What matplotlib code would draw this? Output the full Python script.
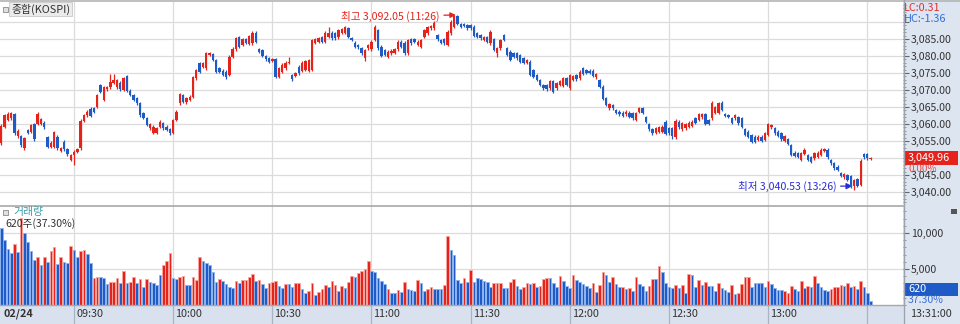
import matplotlib
matplotlib.use('Agg')
import matplotlib.pyplot as plt
import numpy as np
from matplotlib.patches import Rectangle
from matplotlib.lines import Line2D
from matplotlib.transforms import blended_transform_factory, ScaledTranslation
from matplotlib.ticker import MultipleLocator

plt.rcParams['font.family'] = ['Noto Sans CJK KR', 'DejaVu Sans']

# ---------------- data (1-minute KOSPI bars, 09:08 .. 13:31, 02/24) ----------------
start_minute = 8  # minutes after 09:00 of the first visible bar

opens = [
    3054.3, 3059.2, 3061.2, 3061.7, 3062.9, 3056.5, 3056.5, 3052.9, 3058.2, 3057.7,
    3060.0, 3060.0, 3060.0, 3060.4, 3056.1, 3053.3, 3053.3, 3056.3, 3052.1, 3054.8,
    3052.6, 3049.4, 3050.9, 3051.9, 3052.9, 3061.0, 3062.6, 3064.3, 3064.6, 3065.1,
    3071.5, 3067.1, 3070.2, 3070.8, 3072.1, 3070.8, 3072.1, 3070.0, 3074.1, 3069.8,
    3068.5, 3067.6, 3066.2, 3063.2, 3061.8, 3058.7, 3057.4, 3057.4, 3059.2, 3060.2,
    3059.2, 3058.4, 3057.4, 3061.2, 3066.1, 3068.5, 3066.6, 3067.1, 3068.0, 3073.4,
    3077.9, 3076.9, 3076.4, 3080.3, 3080.6, 3078.8, 3076.4, 3075.7, 3075.4, 3074.4,
    3079.8, 3082.0, 3085.5, 3083.2, 3084.9, 3083.5, 3083.7, 3086.9, 3082.0, 3081.8,
    3080.0, 3079.3, 3078.6, 3079.0, 3073.9, 3075.4, 3076.4, 3078.0, 3074.4, 3074.1,
    3076.9, 3075.7, 3075.9, 3075.7, 3075.9, 3083.9, 3084.2, 3085.5, 3084.2, 3085.7,
    3086.9, 3086.7, 3085.5, 3086.9, 3086.9, 3088.1, 3085.2, 3083.9, 3083.2, 3082.3,
    3079.3, 3082.3, 3082.0, 3084.7, 3087.6, 3082.7, 3081.8, 3079.8, 3080.8, 3081.0,
    3082.0, 3084.2, 3083.9, 3080.8, 3084.9, 3084.9, 3083.2, 3082.7, 3085.7, 3086.7,
    3088.1, 3088.1, 3086.2, 3084.7, 3084.9, 3083.2, 3086.7, 3088.6, 3091.8, 3089.4,
    3089.3, 3089.1, 3089.1, 3088.6, 3086.7, 3086.2, 3084.7, 3085.5, 3083.7, 3084.9,
    3080.8, 3082.3, 3086.2, 3082.3, 3081.3, 3080.8, 3080.8, 3080.3, 3079.3, 3077.9,
    3078.3, 3075.9, 3074.4, 3072.9, 3071.5, 3071.5, 3070.5, 3072.5, 3070.5, 3071.5,
    3071.2, 3073.4, 3070.5, 3072.9, 3074.4, 3073.4, 3076.4, 3075.9, 3075.7, 3075.7,
    3073.7, 3072.9, 3071.0, 3067.6, 3064.6, 3065.6, 3064.1, 3063.6, 3063.3, 3062.9,
    3063.3, 3063.1, 3061.2, 3063.6, 3064.6, 3062.0, 3060.0, 3058.4, 3057.4, 3057.7,
    3057.7, 3060.7, 3058.7, 3058.7, 3056.1, 3060.7, 3058.4, 3058.7, 3059.2, 3059.4,
    3061.7, 3061.2, 3062.0, 3062.9, 3061.2, 3061.7, 3063.3, 3063.3, 3066.3, 3062.9,
    3062.6, 3061.7, 3061.7, 3062.1, 3061.7, 3058.4, 3057.7, 3056.8, 3056.3, 3055.3,
    3056.3, 3055.3, 3056.8, 3059.0, 3058.7, 3057.7, 3057.3, 3055.1, 3055.5, 3053.8,
    3051.6, 3051.4, 3049.4, 3051.2, 3050.9, 3050.2, 3049.9, 3050.4, 3050.9, 3052.1,
    3052.4, 3049.4, 3048.4, 3047.4, 3045.5, 3044.3, 3045.0, 3044.7, 3041.8, 3043.7,
    3042.1, 3051.2, 3051.2, 3049.6,
]
highs = [
    3059.9, 3063.0, 3063.4, 3063.6, 3063.3, 3058.4, 3056.9, 3056.2, 3058.6, 3060.1,
    3060.4, 3063.6, 3061.9, 3060.8, 3056.5, 3054.9, 3058.0, 3056.7, 3053.3, 3055.2,
    3053.0, 3051.3, 3052.3, 3053.0, 3061.4, 3063.0, 3064.0, 3065.0, 3065.0, 3068.9,
    3071.9, 3071.2, 3071.2, 3074.7, 3074.7, 3073.3, 3072.5, 3073.8, 3074.5, 3070.2,
    3068.9, 3068.0, 3066.6, 3063.6, 3062.2, 3060.4, 3059.6, 3059.1, 3061.1, 3060.6,
    3059.6, 3058.8, 3061.6, 3064.0, 3069.1, 3068.9, 3068.0, 3068.4, 3074.1, 3076.3,
    3078.3, 3078.3, 3081.2, 3081.2, 3081.0, 3079.2, 3076.8, 3076.1, 3075.8, 3080.2,
    3082.6, 3085.6, 3085.9, 3085.3, 3085.3, 3086.3, 3087.3, 3087.3, 3082.4, 3082.2,
    3080.4, 3079.7, 3079.4, 3079.4, 3076.8, 3077.8, 3078.4, 3079.7, 3074.8, 3075.3,
    3077.3, 3078.4, 3078.8, 3079.2, 3085.1, 3085.3, 3085.6, 3085.9, 3087.3, 3088.6,
    3087.3, 3087.1, 3088.0, 3088.3, 3088.8, 3088.5, 3085.6, 3084.3, 3083.6, 3082.7,
    3082.2, 3083.6, 3084.6, 3089.0, 3088.0, 3083.1, 3082.2, 3081.7, 3082.0, 3082.4,
    3084.6, 3084.6, 3084.3, 3085.0, 3085.3, 3085.3, 3084.6, 3085.1, 3088.0, 3088.8,
    3089.2, 3090.2, 3086.6, 3085.1, 3085.3, 3087.6, 3090.5, 3092.0, 3092.05, 3089.8,
    3089.7, 3089.5, 3089.5, 3089.0, 3087.1, 3086.6, 3085.9, 3085.9, 3087.6, 3085.3,
    3082.7, 3085.1, 3086.6, 3082.7, 3081.7, 3081.2, 3081.2, 3080.7, 3079.7, 3079.2,
    3078.7, 3076.3, 3074.8, 3073.3, 3071.9, 3071.9, 3072.9, 3072.9, 3072.4, 3072.9,
    3073.8, 3073.8, 3074.8, 3074.5, 3074.8, 3075.8, 3076.8, 3076.3, 3076.1, 3076.1,
    3075.1, 3073.3, 3071.4, 3068.0, 3066.3, 3066.0, 3064.5, 3064.0, 3063.7, 3064.0,
    3063.7, 3063.5, 3063.5, 3065.0, 3065.0, 3062.4, 3060.4, 3058.8, 3059.1, 3059.4,
    3059.6, 3061.1, 3059.1, 3059.1, 3061.4, 3061.1, 3060.6, 3060.4, 3060.8, 3061.1,
    3062.1, 3063.3, 3063.3, 3063.3, 3061.6, 3066.7, 3065.3, 3066.5, 3066.7, 3063.3,
    3063.0, 3062.1, 3063.0, 3062.5, 3062.1, 3058.8, 3058.1, 3057.2, 3056.7, 3056.7,
    3056.7, 3057.7, 3060.4, 3060.1, 3059.1, 3058.1, 3057.7, 3056.9, 3055.9, 3054.2,
    3052.0, 3051.8, 3051.8, 3052.8, 3051.3, 3050.6, 3051.8, 3052.0, 3052.8, 3053.0,
    3052.8, 3049.8, 3048.8, 3047.8, 3045.9, 3045.7, 3045.4, 3045.1, 3043.9, 3044.1,
    3049.6, 3051.6, 3051.6, 3050.3,
]
lows = [
    3053.9, 3058.8, 3060.8, 3061.3, 3056.9, 3056.0, 3053.3, 3052.4, 3057.0, 3057.3,
    3055.0, 3059.6, 3059.6, 3058.5, 3052.9, 3052.9, 3052.9, 3052.4, 3051.7, 3052.2,
    3050.7, 3049.1, 3047.9, 3051.5, 3052.5, 3060.6, 3062.2, 3062.0, 3063.2, 3064.7,
    3069.1, 3066.7, 3069.8, 3070.4, 3071.7, 3070.4, 3069.8, 3069.6, 3069.4, 3068.1,
    3066.7, 3065.7, 3062.2, 3061.4, 3059.3, 3058.3, 3057.0, 3057.0, 3058.8, 3058.3,
    3057.8, 3056.7, 3057.0, 3060.8, 3065.7, 3066.2, 3066.0, 3066.7, 3067.6, 3073.0,
    3075.0, 3076.5, 3076.0, 3079.9, 3078.4, 3075.0, 3075.0, 3074.0, 3073.3, 3074.0,
    3079.4, 3081.6, 3082.3, 3082.8, 3083.5, 3083.1, 3083.3, 3083.8, 3080.9, 3079.6,
    3078.6, 3077.9, 3078.2, 3073.5, 3073.5, 3075.0, 3076.0, 3077.6, 3072.7, 3073.7,
    3074.5, 3075.3, 3075.5, 3075.3, 3075.5, 3083.5, 3083.8, 3083.8, 3083.8, 3085.3,
    3084.8, 3084.8, 3085.1, 3086.5, 3086.5, 3085.3, 3084.3, 3082.3, 3082.2, 3080.4,
    3078.6, 3081.9, 3081.6, 3084.3, 3081.9, 3079.6, 3079.9, 3079.4, 3080.4, 3080.6,
    3081.6, 3082.3, 3080.4, 3080.4, 3083.3, 3083.8, 3082.8, 3082.3, 3085.3, 3086.3,
    3087.7, 3087.7, 3084.5, 3083.5, 3083.3, 3082.8, 3086.3, 3088.2, 3089.0, 3088.2,
    3088.4, 3087.7, 3087.7, 3085.5, 3085.3, 3084.8, 3084.3, 3083.8, 3083.3, 3081.4,
    3079.8, 3081.9, 3084.3, 3079.9, 3078.4, 3079.4, 3078.9, 3077.9, 3077.5, 3077.5,
    3074.0, 3073.5, 3072.5, 3071.1, 3070.1, 3069.8, 3070.1, 3069.1, 3070.1, 3071.1,
    3070.8, 3071.1, 3070.1, 3072.5, 3072.7, 3073.0, 3074.3, 3074.7, 3074.7, 3073.7,
    3073.3, 3070.6, 3067.0, 3065.2, 3064.2, 3064.2, 3062.9, 3062.5, 3062.0, 3062.5,
    3061.7, 3061.3, 3060.8, 3063.2, 3062.9, 3060.3, 3058.0, 3056.9, 3057.0, 3057.3,
    3057.3, 3056.7, 3056.9, 3055.5, 3055.7, 3058.6, 3058.0, 3058.3, 3058.8, 3059.0,
    3060.0, 3060.8, 3061.6, 3059.6, 3059.6, 3061.3, 3062.9, 3062.9, 3063.7, 3062.0,
    3061.7, 3060.0, 3061.3, 3059.8, 3058.8, 3056.4, 3055.9, 3054.4, 3054.4, 3054.9,
    3054.7, 3054.9, 3056.4, 3058.6, 3056.9, 3056.1, 3055.1, 3054.7, 3053.7, 3050.5,
    3050.2, 3050.0, 3049.0, 3050.8, 3049.0, 3048.5, 3049.5, 3050.0, 3050.5, 3051.7,
    3049.8, 3048.0, 3046.6, 3046.1, 3044.3, 3043.9, 3043.1, 3041.2, 3040.53, 3041.4,
    3041.7, 3049.8, 3049.5, 3049.3,
]
closes = [
    3059.4, 3062.6, 3062.9, 3063.1, 3057.3, 3058.0, 3053.8, 3055.8, 3057.4, 3059.7,
    3055.5, 3062.9, 3061.4, 3059.0, 3053.3, 3054.5, 3057.6, 3052.9, 3052.9, 3052.6,
    3051.2, 3050.9, 3051.9, 3052.6, 3061.0, 3062.6, 3063.6, 3062.4, 3063.6, 3068.5,
    3069.5, 3070.8, 3070.8, 3072.4, 3072.9, 3072.9, 3070.2, 3073.4, 3069.8, 3068.5,
    3067.1, 3066.1, 3062.6, 3061.8, 3059.7, 3060.0, 3059.2, 3058.7, 3060.7, 3058.7,
    3058.2, 3057.3, 3061.2, 3063.6, 3068.7, 3066.6, 3067.6, 3068.0, 3073.7, 3075.9,
    3075.4, 3077.9, 3080.8, 3080.8, 3078.8, 3075.4, 3075.4, 3074.4, 3073.7, 3079.8,
    3082.2, 3085.2, 3082.7, 3084.9, 3083.9, 3085.9, 3086.9, 3084.2, 3081.3, 3080.0,
    3079.0, 3078.3, 3079.0, 3073.9, 3076.4, 3077.4, 3078.0, 3078.3, 3073.1, 3074.9,
    3074.9, 3078.0, 3078.4, 3078.8, 3084.7, 3084.9, 3085.2, 3084.2, 3086.9, 3086.9,
    3085.2, 3085.2, 3087.6, 3087.9, 3088.4, 3085.7, 3084.7, 3082.7, 3082.6, 3080.8,
    3081.8, 3083.2, 3084.2, 3088.6, 3082.3, 3080.0, 3080.3, 3081.3, 3081.6, 3082.0,
    3084.2, 3082.7, 3080.8, 3084.6, 3083.7, 3084.2, 3084.2, 3084.7, 3087.6, 3088.4,
    3088.8, 3089.8, 3084.9, 3083.9, 3083.7, 3087.2, 3090.1, 3091.8, 3089.4, 3088.6,
    3088.8, 3088.1, 3088.1, 3085.9, 3085.7, 3085.2, 3085.5, 3084.2, 3087.2, 3081.8,
    3082.3, 3084.7, 3084.7, 3080.3, 3078.8, 3079.8, 3079.3, 3078.3, 3077.9, 3078.8,
    3074.4, 3073.9, 3072.9, 3071.5, 3070.5, 3070.2, 3072.5, 3069.5, 3072.0, 3072.5,
    3073.4, 3071.5, 3074.4, 3074.1, 3073.1, 3075.4, 3074.7, 3075.1, 3075.1, 3074.1,
    3074.7, 3071.0, 3067.4, 3065.6, 3065.9, 3064.6, 3063.3, 3062.9, 3062.4, 3063.6,
    3062.1, 3061.7, 3063.1, 3064.6, 3063.3, 3060.7, 3058.4, 3057.3, 3058.7, 3059.0,
    3059.2, 3057.1, 3057.3, 3056.5, 3061.0, 3059.0, 3060.2, 3060.0, 3060.4, 3060.7,
    3060.4, 3062.9, 3062.9, 3060.0, 3060.0, 3066.3, 3064.9, 3066.1, 3064.1, 3062.4,
    3062.1, 3060.4, 3062.6, 3060.2, 3059.2, 3056.8, 3056.3, 3054.8, 3054.8, 3056.3,
    3055.1, 3057.3, 3060.0, 3059.7, 3057.3, 3056.5, 3055.5, 3056.5, 3054.1, 3050.9,
    3050.6, 3050.4, 3051.4, 3052.4, 3049.4, 3048.9, 3051.4, 3051.6, 3052.4, 3052.6,
    3050.2, 3048.4, 3047.0, 3046.5, 3044.7, 3045.3, 3043.5, 3041.6, 3043.5, 3041.8,
    3049.2, 3050.2, 3049.9, 3049.96,
]
volumes = [
    10650, 9030, 7740, 7180, 8430, 7400, 12040, 9960, 8800, 7550,
    6250, 6620, 5560, 6620, 6020, 7550, 8100, 5690, 6620, 5930,
    5880, 8240, 7640, 6710, 7550, 7640, 7080, 5790, 3790, 3840,
    3930, 3700, 2870, 3150, 3240, 3700, 3010, 4720, 3010, 3240,
    3930, 3010, 3560, 2460, 3560, 3240, 3100, 2780, 4170, 5560,
    6110, 7180, 3700, 3560, 3930, 4030, 2780, 2780, 3840, 3470,
    6620, 6110, 5790, 5560, 4630, 3240, 3610, 3380, 2920, 2460,
    2320, 3380, 3010, 3470, 3470, 3840, 4310, 3380, 3470, 2870,
    2320, 3100, 3240, 3380, 2640, 2320, 2870, 2870, 2460, 3010,
    3100, 2180, 1710, 1990, 3100, 1390, 1850, 2220, 2780, 2460,
    3380, 2780, 1990, 2640, 2320, 3240, 4030, 3840, 4490, 4720,
    4960, 6160, 4720, 4540, 3700, 3330, 2870, 2220, 1710, 1710,
    2080, 1850, 3150, 2220, 2080, 1940, 3470, 3010, 1940, 2180,
    2460, 2180, 2180, 2180, 2780, 9580, 7640, 6950, 3470, 3100,
    3700, 3240, 4860, 3240, 3700, 3560, 3380, 3240, 2460, 3010,
    3010, 3010, 2320, 2320, 3240, 3560, 2640, 2180, 2460, 3010,
    2870, 3010, 2460, 2640, 3560, 3700, 3700, 3100, 2460, 4030,
    3380, 2640, 2320, 4170, 3470, 3240, 2870, 2600, 2320, 3100,
    1850, 2780, 4630, 4170, 3240, 3930, 2870, 2460, 2460, 2220,
    2320, 1990, 3840, 2870, 2640, 1990, 2640, 3560, 3560, 5420,
    4630, 3010, 2550, 2320, 2780, 2320, 2780, 1710, 4310, 4170,
    2460, 3470, 2780, 3240, 2640, 2640, 1990, 3100, 2320, 2080,
    1850, 2780, 1530, 1620, 2920, 3840, 3930, 2460, 3100, 3100,
    3010, 2460, 3380, 2920, 2320, 2080, 2080, 1990, 1710, 2640,
    2180, 1990, 3380, 2320, 2640, 2550, 4070, 3010, 2460, 2080,
    1990, 2180, 2460, 2550, 2780, 2640, 3100, 2460, 2640, 2180,
    3380, 2460, 1620, 620,
]
# volume bar colour as drawn by the HTS: r = red bar, b = blue bar
volume_side = (
    "bbbbrbrbbb" "brbrbrrbrb" "brbbrrbbrr" "bbbrrrbrbr" "rbrbrbbbbr"
    "rrbbrrbbrr" "rbbbbbrbbb" "brbrrrrbrb" "brrrbbrbbr" "rbbrrb"
    "rrrbrrbrbr" "rbrrrrbbbb" "brbbrbrbbb" "rbbrrbbbrr" "bbbbrbrbbb"
    "bbbrrrbbrr" "bbrrbrbrrr" "bbbrbbbrbb" "bbbrbr"
    "rbbrbbrbrb" "rbbbrrbrbb" "bbrbrbrbbr" "brbbbrbbbr" "brrrrbbbbb"
    "rbbbbrrrbb" "rbrbrbbbbr" "rrrbrbrbrb" "bb"
)
time_ticks = [30, 60, 90, 120, 150, 180, 210, 240, 270]   # minutes after 09:00
time_labels = ["09:30", "10:00", "10:30", "11:00", "11:30", "12:00", "12:30", "13:00", ""]
price_ticks = [3040, 3045, 3050, 3055, 3060, 3065, 3070, 3075, 3080, 3085, 3090]
hidden_price_labels = [3050, 3090]   # covered by the last-price box / HC text
volume_ticks = [5000, 10000]

high_value, high_time = 3092.05, "11:26"
low_value, low_time = 3040.53, "13:26"
last_price, last_change = 3049.96, "0.00%"
last_volume, volume_ratio = 620, "37.30%"

# ---------------- figure ----------------
W, H = 960, 324
fig = plt.figure(figsize=(W / 100, H / 100), dpi=100)
fig.patch.set_facecolor('white')


def rect(x0, y0, x1, y1):
    return [x0 / W, 1 - y1 / H, (x1 - x0) / W, (y1 - y0) / H]


RED = '#e5231b'
BLUE = '#1e5bc6'
RED_L = '#f7a59c'
BLUE_L = '#8fb4ee'
GRID = '#dcdcdc'
TXT = '#333333'

# backgrounds (right scale panel, time strip) - drawn below the axes
fig.patches.append(Rectangle((903 / W, 0), 57 / W, 1, transform=fig.transFigure,
                             facecolor='#dde5f0', edgecolor='none', zorder=-5))
fig.patches.append(Rectangle((0, 0), 903 / W, 19 / H, transform=fig.transFigure,
                             facecolor='#d8e1ed', edgecolor='none', zorder=-5))

m = np.arange(start_minute, start_minute + len(closes))
o = np.array(opens); c = np.array(closes); hi = np.array(highs); lo = np.array(lows)
up = c >= o
xlim = (7.61, 280.8)

# ---------------- price panel ----------------
ax = fig.add_axes(rect(0, 2, 903, 205))
ax.set_facecolor('none')
ax.set_xlim(*xlim)
ax.set_ylim(3036.18, 3095.88)
for s in ax.spines.values():
    s.set_visible(False)
ax.set_yticks(price_ticks)
ax.yaxis.set_minor_locator(MultipleLocator(1))
ax.yaxis.tick_right()
ax.set_yticklabels(["" if v in hidden_price_labels else f"{v:,.2f}" for v in price_ticks])
ax.tick_params(axis='y', which='major', direction='out', length=4, width=0.8,
               color='#666666', labelsize=7.6, labelcolor=TXT, pad=1.5)
ax.tick_params(axis='y', which='minor', direction='out', length=2, width=0.6, color='#888888')
ax.set_xticks(time_ticks)
ax.tick_params(axis='x', length=0, labelbottom=False)
ax.grid(True, which='major', color=GRID, lw=0.9)
ax.set_axisbelow(True)

cols = np.where(up, RED, BLUE)
ax.vlines(m, lo, hi, colors=cols, lw=0.9, zorder=3)
body_h = np.maximum(np.abs(c - o), 0.25)
ax.bar(m, body_h, bottom=np.minimum(o, c), width=0.72, color=cols, lw=0, zorder=4)

# high / low markers
hi_idx = int(np.argmax(hi)); lo_idx = int(np.argmin(lo))
ax.annotate(f"최고 {high_value:,.2f} ({high_time})", xy=(m[hi_idx] - 0.5, high_value),
            xytext=(-16, -1), textcoords='offset pixels', ha='right', va='center',
            color=RED, fontsize=7.6,
            arrowprops=dict(arrowstyle='-|>', color=RED, lw=0.9, shrinkA=1, shrinkB=0,
                            mutation_scale=8))
ax.annotate(f"최저 {low_value:,.2f} ({low_time})", xy=(m[lo_idx] - 0.5, low_value + 1.2),
            xytext=(-16, 0), textcoords='offset pixels', ha='right', va='center',
            color='#2b2bd6', fontsize=7.6,
            arrowprops=dict(arrowstyle='-|>', color='#2b2bd6', lw=0.9, shrinkA=1, shrinkB=0,
                            mutation_scale=9))

# last price box on the scale
bt = blended_transform_factory(ax.transAxes, ax.transData)
ax.add_patch(Rectangle((905 / 903, last_price - 2.1), 53 / 903, 4.2, transform=bt,
                       facecolor=RED, edgecolor='none', clip_on=False, zorder=6))
ax.text(908 / 903, last_price, f"{last_price:,.2f}", transform=bt, color='white',
        fontsize=7.8, va='center', ha='left', clip_on=False, zorder=7)
ax.text(908 / 903, last_price - 3.2, last_change, transform=bt, color='#e05050',
        fontsize=7.2, va='center', ha='left', clip_on=False, zorder=7)

# ---------------- volume panel ----------------
vax = fig.add_axes(rect(0, 205, 903, 305))
vax.set_facecolor('none')
vax.set_xlim(*xlim)
vax.set_ylim(0, 13890)
for s in vax.spines.values():
    s.set_visible(False)
vax.yaxis.tick_right()
vax.set_yticks(volume_ticks)
vax.set_yticklabels([f"{v:,}" for v in volume_ticks])
vax.yaxis.set_minor_locator(MultipleLocator(1000))
vax.tick_params(axis='y', which='major', direction='out', length=4, width=0.8,
                color='#666666', labelsize=7.6, labelcolor=TXT, pad=1.5)
vax.tick_params(axis='y', which='minor', direction='out', length=2, width=0.6, color='#888888')
vax.set_xticks(time_ticks)
vax.set_xticklabels(time_labels)
vax.tick_params(axis='x', length=0, labelsize=7.8, labelcolor=TXT, pad=3)
for lab in vax.get_xticklabels():
    lab.set_horizontalalignment('left')
    lab.set_transform(lab.get_transform() + ScaledTranslation(2 / 100, 0, fig.dpi_scale_trans))
vax.grid(True, which='major', color=GRID, lw=0.9)
vax.set_axisbelow(True)

vcols = [RED if s == 'r' else BLUE for s in volume_side]
vedge = [RED_L if s == 'r' else BLUE_L for s in volume_side]
vax.bar(m, volumes, width=0.8, color=vcols, edgecolor=vedge, lw=0.6, zorder=3)

# time-strip separators at the time ticks
tt = blended_transform_factory(vax.transData, vax.transAxes)
vax.vlines(time_ticks, -0.19, 0, transform=tt, colors='#a9b4c2', lw=0.9, clip_on=False)

bv = blended_transform_factory(vax.transAxes, vax.transData)
vax.add_patch(Rectangle((905 / 903, 1280), 53 / 903, 1800, transform=bv,
                        facecolor=BLUE, edgecolor='none', clip_on=False, zorder=6))
vax.text(908 / 903, 2180, f"{last_volume}", transform=bv, color='white', fontsize=7.8,
         va='center', ha='left', clip_on=False, zorder=7)
vax.text(908 / 903, 640, volume_ratio, transform=bv, color='#3b6fd4', fontsize=7.6,
         va='center', ha='left', clip_on=False, zorder=7)

# ---------------- frame lines & labels ----------------
def fline(x0, y0, x1, y1, color, lw=1.0):
    fig.add_artist(Line2D([x0 / W, x1 / W], [1 - y0 / H, 1 - y1 / H],
                          transform=fig.transFigure, color=color, lw=lw))

fline(0, 1, 960, 1, '#b4b4b4', 1.2)
fline(0, 205.5, 903, 205.5, '#a8a8a8', 1.2)
fline(0, 305, 903, 305, '#a8a8a8', 1.0)
fline(903.5, 0, 903.5, 324, '#9aa3ae', 1.0)

# title box
fig.patches.append(Rectangle((3 / W, 1 - 12 / H), 5 / W, 5 / H, transform=fig.transFigure,
                             facecolor='#e0e0e0', edgecolor='#888888', lw=0.6))
fig.text(11 / W, 1 - 9 / H, "종합(KOSPI)", fontsize=7.8, color=TXT, va='center', ha='left',
         bbox=dict(boxstyle='square,pad=0.15', facecolor='#ebebeb', edgecolor='#c8c8c8', lw=0.6))

fig.text(904 / W, 1 - 8 / H, "LC:0.31", fontsize=7.8, color='#e03030', va='center', ha='left')
fig.text(904 / W, 1 - 19 / H, "HC:-1.36", fontsize=7.8, color='#2f6fd8', va='center', ha='left')

fig.patches.append(Rectangle((3 / W, 1 - 215 / H), 5 / W, 5 / H, transform=fig.transFigure,
                             facecolor='#e0e0e0', edgecolor='#888888', lw=0.6))
fig.text(13 / W, 1 - 212 / H, "거래량", fontsize=7.8, color='#3a9ea8', va='center', ha='left')
fig.text(5 / W, 1 - 224 / H, f"{last_volume}주({volume_ratio})", fontsize=7.6, color=TXT,
         va='center', ha='left')
fig.patches.append(Rectangle((951 / W, 1 - 214 / H), 6 / W, 5 / H, transform=fig.transFigure,
                             facecolor='#555555', edgecolor='none'))

fig.text(3 / W, 1 - 314 / H, "02/24", fontsize=7.8, color=TXT, fontweight='bold',
         va='center', ha='left')
fig.text(910 / W, 1 - 314 / H, "13:31:00", fontsize=7.8, color=TXT, va='center', ha='left')

fig.savefig('out.png', dpi=100, facecolor=fig.get_facecolor())
